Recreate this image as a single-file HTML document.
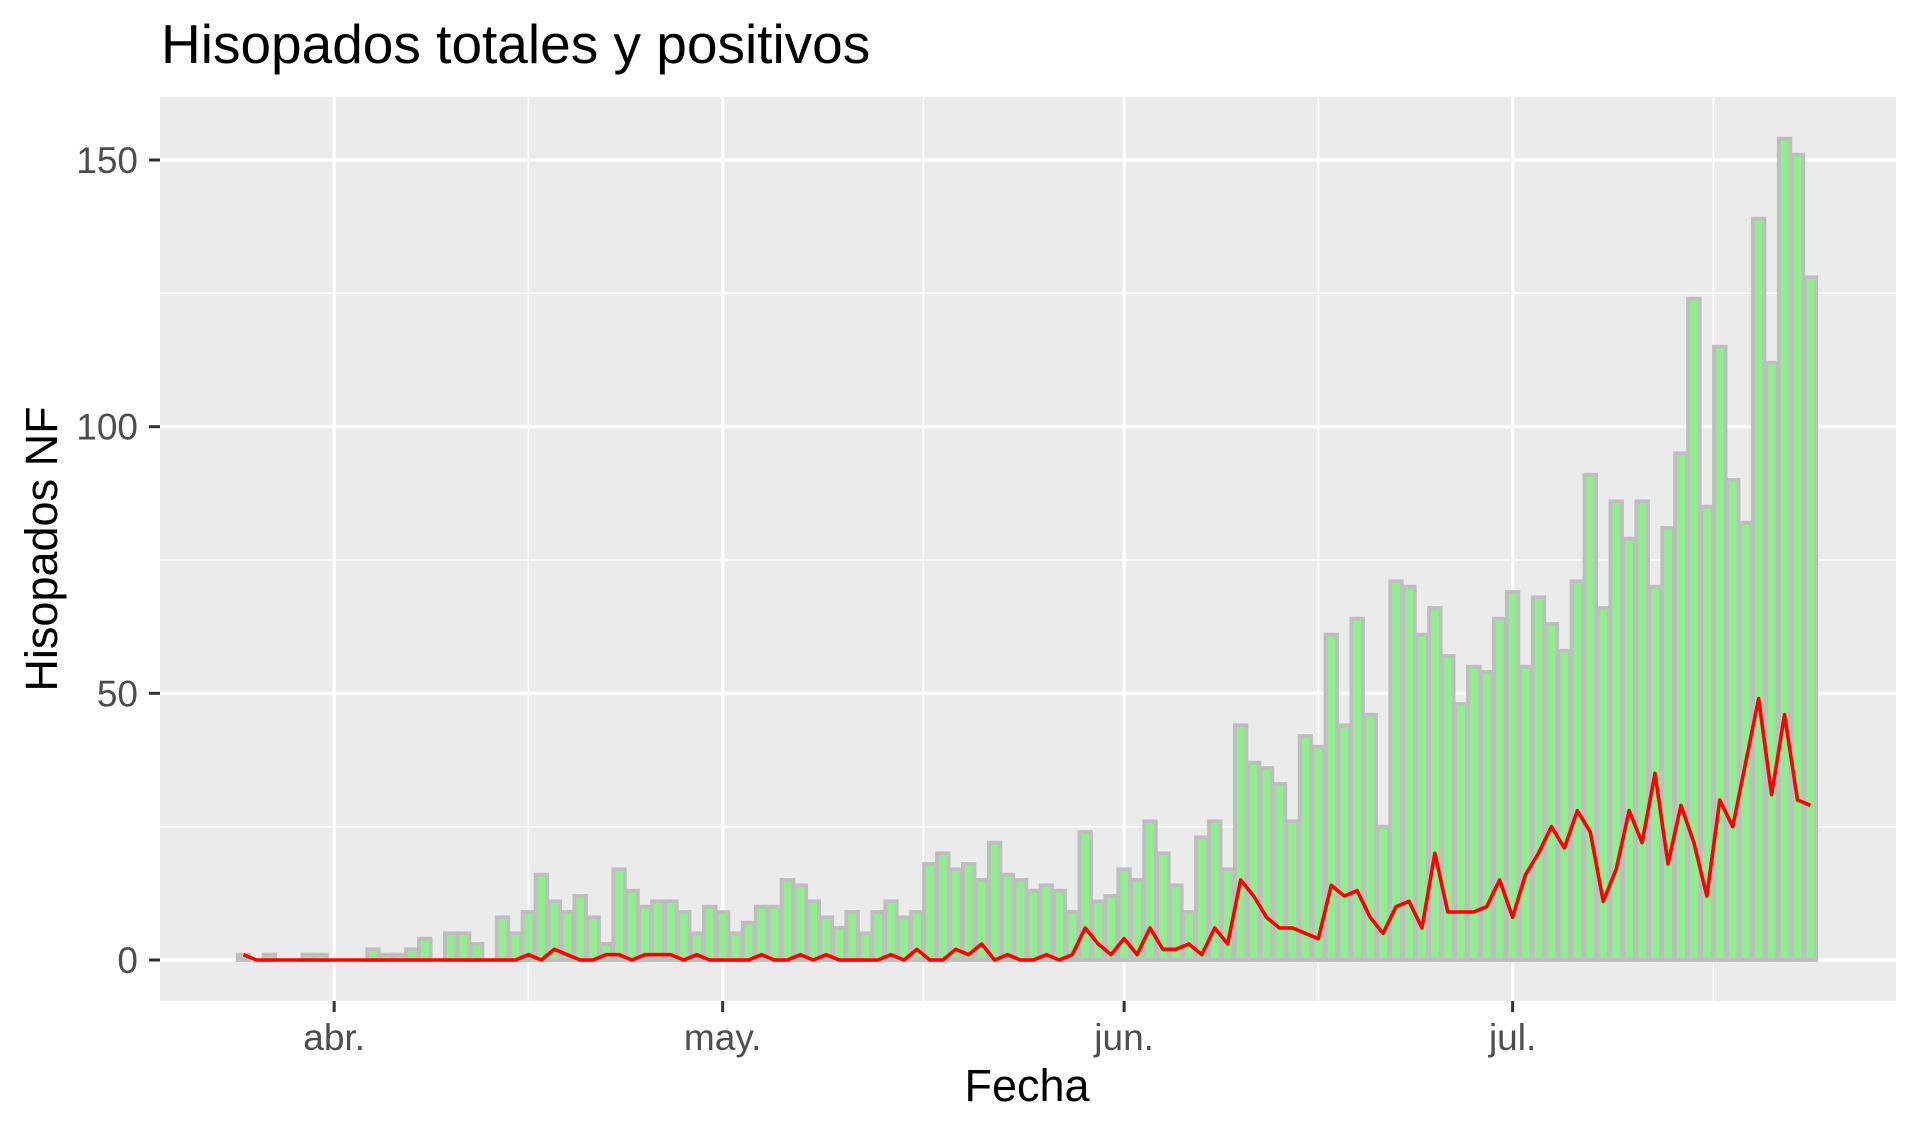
<!DOCTYPE html>
<html><head><meta charset="utf-8"><style>
html,body{margin:0;padding:0;background:#fff;}
svg{display:block;font-family:"Liberation Sans",Arial,sans-serif;}
</style></head><body>
<svg id="chart" width="1918" height="1134" viewBox="0 0 1918 1134" xmlns="http://www.w3.org/2000/svg">
<rect width="1918" height="1134" fill="#fff"/>
<text x="161" y="63" font-size="55" fill="#000">Hisopados totales y positivos</text>
<rect x="160" y="97" width="1736" height="904" fill="#ebebeb"/>
<g id="grid"></g>
<g id="bars"></g>
<g id="line"></g>
<g id="axes"></g>
<text x="1027" y="1101" font-size="45" text-anchor="middle" fill="#000">Fecha</text>
<text transform="translate(57,549) rotate(-90)" font-size="45" text-anchor="middle" fill="#000">Hisopados NF</text>
</svg>
<script>
const totals = [1,0,1,0,0,1,1,
0,0,0,2,1,1,2,4,0,5,5,3,0,8,5,9,16,11,9,12,8,3,17,13,10,11,11,9,5,10,
9,5,7,10,10,15,14,11,8,6,9,5,9,11,8,9,18,20,17,18,15,22,16,15,13,14,13,9,24,11,12,
17,15,26,20,14,9,23,26,17,44,37,36,33,26,42,40,61,44,64,46,25,71,70,61,66,57,48,55,54,64,
69,55,68,63,58,71,91,66,86,79,86,70,81,95,124,85,115,90,82,139,112,154,151,128];
const positives = [1,0,0,0,0,0,0,
0,0,0,0,0,0,0,0,0,0,0,0,0,0,0,1,0,2,1,0,0,1,1,0,1,1,1,0,1,0,
0,0,0,1,0,0,1,0,1,0,0,0,0,1,0,2,0,0,2,1,3,0,1,0,0,1,0,1,6,3,1,
4,1,6,2,2,3,1,6,3,15,12,8,6,6,5,4,14,12,13,8,5,10,11,6,20,9,9,9,10,15,
8,16,20,25,21,28,24,11,17,28,22,35,18,29,22,12,30,25,37,49,31,46,30,29];
const yTicks = [0,50,100,150];
const yMinor = [25,75,125];
const monthLabels = ["abr.","may.","jun.","jul."];
const monthDays = [7,37,68,98];
const minorDays = [22,52.5,83,113.5];

const NS="http://www.w3.org/2000/svg";
const PL=160,PR=1896,PT=97,PB=1001;
function xs(d){return 243.5+d*12.95;}
function ys(v){return 960-v*(800/150);}
function mk(tag,attrs,parent){const e=document.createElementNS(NS,tag);for(const k in attrs)e.setAttribute(k,attrs[k]);parent.appendChild(e);return e;}
const grid=document.getElementById('grid'),bars=document.getElementById('bars'),line=document.getElementById('line'),axes=document.getElementById('axes');
yMinor.forEach(v=>{const l=mk('line',{x1:PL,x2:PR,y1:ys(v),y2:ys(v),stroke:'#fff','stroke-width':1.6},grid);

});
minorDays.forEach(d=>{const x=xs(d);if(x<PL||x>PR)return;const l=mk('line',{x1:x,x2:x,y1:PT,y2:PB,stroke:'#fff','stroke-width':1.6},grid);

});
yTicks.forEach(v=>{const y=ys(v);const l=mk('line',{x1:PL,x2:PR,y1:y,y2:y,stroke:'#fff','stroke-width':3.2},grid);


const t=mk('line',{x1:149,x2:160,y1:y,y2:y,stroke:'#333','stroke-width':3},axes);


const tx=mk('text',{x:138,y:y+13,'font-size':37,'text-anchor':'end',fill:'#4d4d4d'},axes);tx.textContent=v;

});
monthDays.forEach((d,i)=>{const x=xs(d);const l=mk('line',{x1:x,x2:x,y1:PT,y2:PB,stroke:'#fff','stroke-width':3.2},grid);


const t=mk('line',{x1:x,x2:x,y1:PB,y2:PB+11,stroke:'#333','stroke-width':3},axes);


const tx=mk('text',{x:x,y:1050,'font-size':37,'text-anchor':'middle',fill:'#4d4d4d'},axes);tx.textContent=monthLabels[i];

});
const bw=11.6;
totals.forEach((v,i)=>{const x=xs(i);const y0=ys(0),y1=ys(v);
const r=mk('rect',{x:x-bw/2,y:y1,width:bw,height:y0-y1,fill:'#90ee90',stroke:'#bebebe','stroke-width':3.8},bars);

});
const pts=positives.map((v,i)=>xs(i)+','+ys(v)).join(' ');
const pl=mk('polyline',{points:pts,fill:'none',stroke:'#ff0000','stroke-width':3.6,'stroke-linejoin':'round'},line);


</script>
</body></html>
